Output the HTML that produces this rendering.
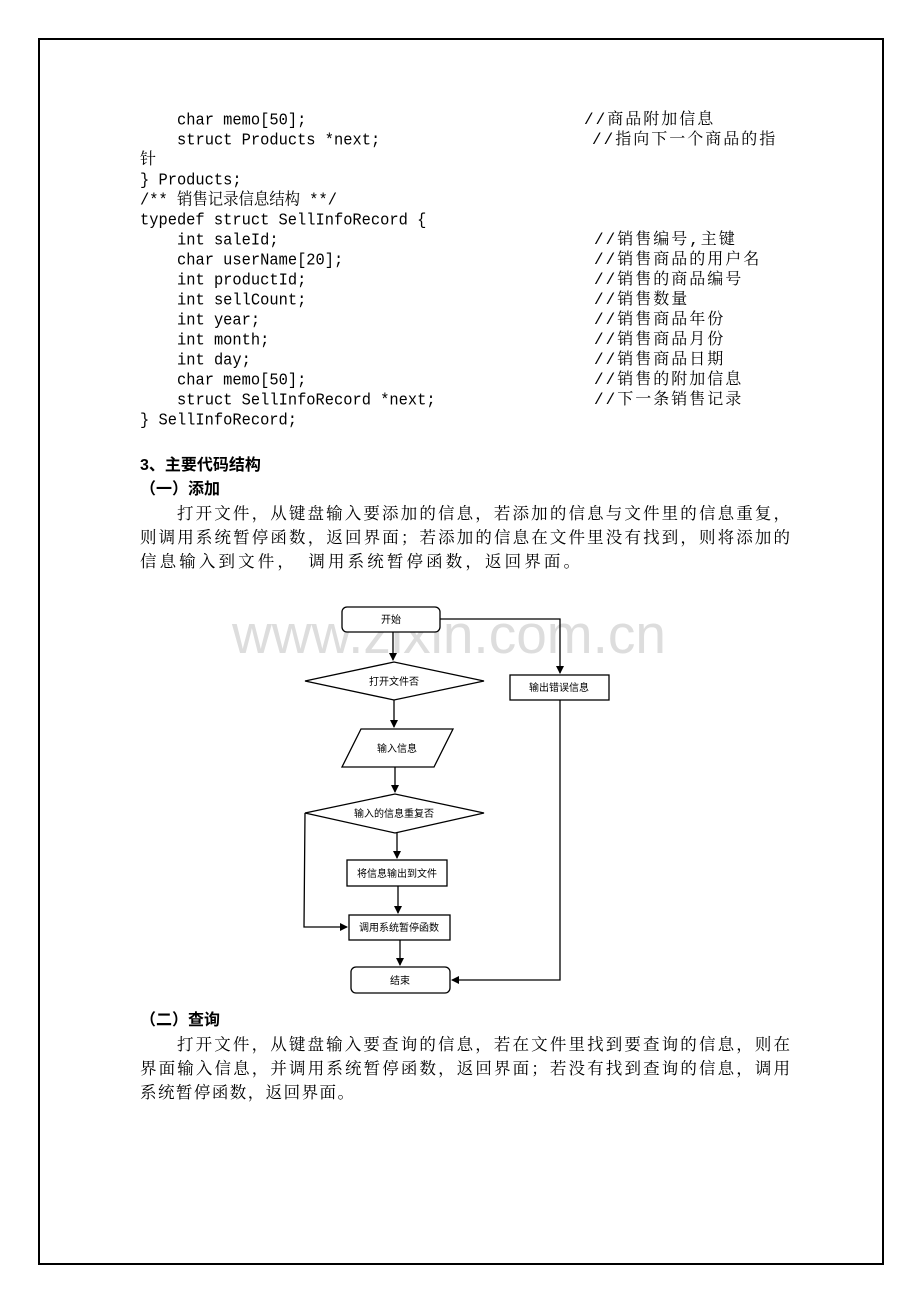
<html><head><style>
body{margin:0;width:920px;height:1302px;background:#fff;position:relative;overflow:hidden}
.b{position:absolute;left:38px;top:38px;width:842px;height:1223px;border:2px solid #000}
.l{position:absolute;font-family:"Liberation Mono","Noto Serif CJK SC",monospace;font-size:15.4px;line-height:20px;white-space:pre;color:#000;transform:scaleY(1.08)}
.c{position:absolute;font-family:"Liberation Mono","Noto Serif CJK SC",serif;font-size:16px;letter-spacing:2px;line-height:20px;white-space:pre}
.p{position:absolute;left:140px;width:650px;font-family:"Liberation Serif","Noto Serif CJK SC",serif;font-size:16.5px;line-height:26px;text-align:justify;text-align-last:justify;white-space:nowrap}
.h{position:absolute;left:140px;font-family:"Liberation Sans","Noto Sans CJK SC",sans-serif;font-weight:bold;font-size:16px;line-height:20px}
.wm{position:absolute;left:232px;top:602px;font-family:"Liberation Sans",sans-serif;font-size:55px;color:#ddd;letter-spacing:0px}
svg text{font-family:"Noto Sans CJK SC",sans-serif;font-size:10px}
</style></head><body>
<div class="b"></div>
<div class="wm">www.zixin.com.cn</div>
<div class="l" style="left:177px;top:110px">char memo[50];</div>
<div class="c" style="left:584px;top:110px">//商品附加信息</div>
<div class="l" style="left:177px;top:130px">struct Products *next;</div>
<div class="c" style="left:592px;top:130px">//指向下一个商品的指</div>
<div class="c" style="left:140px;top:150px">针</div>
<div class="l" style="left:140px;top:170px">} Products;</div>
<div class="l" style="left:140px;top:190px">/** 销售记录信息结构 **/</div>
<div class="l" style="left:140px;top:210px">typedef struct SellInfoRecord {</div>
<div class="l" style="left:177px;top:230px">int saleId;</div><div class="c" style="left:594px;top:230px">//销售编号,主键</div>
<div class="l" style="left:177px;top:250px">char userName[20];</div><div class="c" style="left:594px;top:250px">//销售商品的用户名</div>
<div class="l" style="left:177px;top:270px">int productId;</div><div class="c" style="left:594px;top:270px">//销售的商品编号</div>
<div class="l" style="left:177px;top:290px">int sellCount;</div><div class="c" style="left:594px;top:290px">//销售数量</div>
<div class="l" style="left:177px;top:310px">int year;</div><div class="c" style="left:594px;top:310px">//销售商品年份</div>
<div class="l" style="left:177px;top:330px">int month;</div><div class="c" style="left:594px;top:330px">//销售商品月份</div>
<div class="l" style="left:177px;top:350px">int day;</div><div class="c" style="left:594px;top:350px">//销售商品日期</div>
<div class="l" style="left:177px;top:370px">char memo[50];</div><div class="c" style="left:594px;top:370px">//销售的附加信息</div>
<div class="l" style="left:177px;top:390px">struct SellInfoRecord *next;</div><div class="c" style="left:594px;top:390px">//下一条销售记录</div>
<div class="l" style="left:140px;top:410px">} SellInfoRecord;</div>
<div class="h" style="top:456px">3、主要代码结构</div>
<div class="h" style="top:480px">（一）添加</div>
<div class="p" style="top:501px;left:177px;width:613px">打开文件，从键盘输入要添加的信息，若添加的信息与文件里的信息重复，</div>
<div class="p" style="top:525px">则调用系统暂停函数，返回界面；若添加的信息在文件里没有找到，则将添加的</div>
<div class="p" style="top:549px;width:440px">信息输入到文件，　调用系统暂停函数，返回界面。</div>
<svg style="position:absolute;left:0;top:0" width="920" height="1302">
<defs><marker id="a" markerWidth="8" markerHeight="8" refX="7" refY="4" orient="auto" markerUnits="userSpaceOnUse"><path d="M0,0L8,4L0,8z" fill="#000"/></marker></defs>
<g stroke="#000" stroke-width="1.3" fill="#fff">
<rect x="342" y="607" width="98" height="25" rx="5"/>
<polygon points="305,681 394,662 484,681 394,700"/>
<polygon points="361,729 453,729 434,767 342,767"/>
<polygon points="305,813 395,794 484,813 395,833"/>
<rect x="347" y="860" width="100" height="26"/>
<rect x="349" y="915" width="101" height="25"/>
<rect x="351" y="967" width="99" height="26" rx="5"/>
<rect x="510" y="675" width="99" height="25"/>
<g fill="none">
<line x1="393" y1="632" x2="393" y2="660" marker-end="url(#a)"/>
<line x1="394" y1="700" x2="394" y2="727" marker-end="url(#a)"/>
<line x1="395" y1="767" x2="395" y2="792" marker-end="url(#a)"/>
<line x1="397" y1="833" x2="397" y2="858" marker-end="url(#a)"/>
<line x1="398" y1="886" x2="398" y2="913" marker-end="url(#a)"/>
<line x1="400" y1="940" x2="400" y2="965" marker-end="url(#a)"/>
<polyline points="440,619 560,619 560,673" marker-end="url(#a)"/>
<polyline points="560,700 560,980 452,980" marker-end="url(#a)"/>
<polyline points="305,813 304,927 347,927" marker-end="url(#a)"/>
</g></g>
<g text-anchor="middle" fill="#000">
<text x="391" y="623">开始</text>
<text x="394" y="685">打开文件否</text>
<text x="397" y="752">输入信息</text>
<text x="394" y="817">输入的信息重复否</text>
<text x="397" y="877">将信息输出到文件</text>
<text x="399" y="931">调用系统暂停函数</text>
<text x="400" y="984">结束</text>
<text x="559" y="691">输出错误信息</text>
</g></svg>
<div class="h" style="top:1011px">（二）查询</div>
<div class="p" style="top:1032px;left:177px;width:613px">打开文件，从键盘输入要查询的信息，若在文件里找到要查询的信息，则在</div>
<div class="p" style="top:1056px">界面输入信息，并调用系统暂停函数，返回界面；若没有找到查询的信息，调用</div>
<div class="p" style="top:1080px;width:214px">系统暂停函数，返回界面。</div>
</body></html>
